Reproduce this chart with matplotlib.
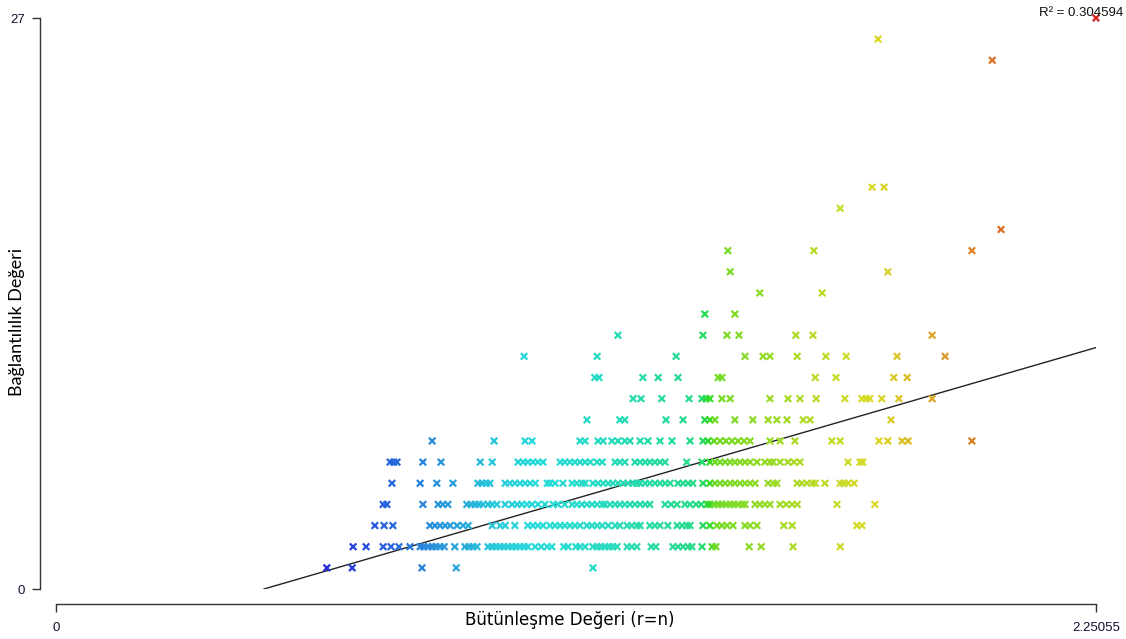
import numpy as np
import matplotlib
matplotlib.use("Agg")
import matplotlib.pyplot as plt
from matplotlib.colors import hsv_to_rgb

# Bütünleşme değeri (x) için her bağlantılılık seviyesindeki noktalar
x_y1 = [0.586, 0.641, 0.792, 0.866, 1.162]
x_y2 = [0.643, 0.671, 0.708, 0.725, 0.742, 0.766, 0.788, 0.796, 0.805, 0.814,
        0.822, 0.831, 0.840, 0.863, 0.885, 0.894, 0.902, 0.911, 0.935, 0.944,
        0.952, 0.961, 0.969, 0.978, 0.987, 0.995, 1.004, 1.013, 1.021, 1.037,
        1.050, 1.063, 1.073, 1.099, 1.108, 1.125, 1.134, 1.145, 1.162, 1.171,
        1.179, 1.188, 1.197, 1.205, 1.214, 1.236, 1.246, 1.257, 1.288, 1.298,
        1.335, 1.346, 1.357, 1.368, 1.376, 1.398, 1.420, 1.428, 1.500, 1.526,
        1.595, 1.697]
x_y3 = [0.690, 0.710, 0.729, 0.809, 0.820, 0.831, 0.842, 0.853, 0.868, 0.881,
        0.892, 0.944, 0.961, 0.972, 0.993, 1.021, 1.032, 1.043, 1.054, 1.069,
        1.080, 1.091, 1.101, 1.112, 1.123, 1.134, 1.149, 1.160, 1.171, 1.182,
        1.195, 1.210, 1.220, 1.236, 1.246, 1.257, 1.264, 1.285, 1.296, 1.307,
        1.324, 1.344, 1.355, 1.365, 1.372, 1.400, 1.415, 1.430, 1.441, 1.452,
        1.465, 1.491, 1.502, 1.517, 1.575, 1.593, 1.733, 1.744]
x_y4 = [0.708, 0.716, 0.794, 0.827, 0.837, 0.848, 0.889, 0.898, 0.907, 0.915,
        0.924, 0.935, 0.944, 0.954, 0.972, 0.987, 0.998, 1.008, 1.019, 1.030,
        1.043, 1.058, 1.076, 1.086, 1.101, 1.117, 1.127, 1.138, 1.149, 1.160,
        1.171, 1.182, 1.188, 1.199, 1.210, 1.220, 1.231, 1.242, 1.253, 1.264,
        1.275, 1.285, 1.318, 1.331, 1.344, 1.361, 1.372, 1.385, 1.396, 1.409,
        1.415, 1.424, 1.433, 1.441, 1.450, 1.459, 1.467, 1.476, 1.485, 1.491,
        1.513, 1.523, 1.534, 1.545, 1.567, 1.580, 1.593, 1.604, 1.690, 1.772]
x_y5 = [0.727, 0.788, 0.824, 0.859, 0.913, 0.922, 0.931, 0.939, 0.972, 0.982,
        0.993, 1.004, 1.015, 1.026, 1.037, 1.063, 1.069, 1.080, 1.097, 1.117,
        1.127, 1.138, 1.145, 1.162, 1.173, 1.184, 1.195, 1.205, 1.216, 1.227,
        1.238, 1.249, 1.257, 1.264, 1.275, 1.285, 1.296, 1.307, 1.318, 1.329,
        1.346, 1.357, 1.368, 1.378, 1.400, 1.415, 1.426, 1.437, 1.448, 1.459,
        1.469, 1.480, 1.491, 1.502, 1.513, 1.541, 1.552, 1.560, 1.604, 1.614,
        1.625, 1.636, 1.643, 1.664, 1.697, 1.705, 1.714, 1.727]
x_y6 = [0.723, 0.731, 0.738, 0.794, 0.833, 0.918, 0.944, 1.000, 1.011, 1.021,
        1.032, 1.043, 1.054, 1.091, 1.101, 1.112, 1.123, 1.134, 1.145, 1.156,
        1.171, 1.182, 1.210, 1.220, 1.231, 1.253, 1.264, 1.275, 1.285, 1.296,
        1.307, 1.318, 1.365, 1.398, 1.415, 1.426, 1.437, 1.448, 1.459, 1.469,
        1.480, 1.491, 1.502, 1.517, 1.534, 1.545, 1.552, 1.567, 1.584, 1.597,
        1.610, 1.714, 1.740, 1.746]
x_y7 = [0.814, 0.948, 1.015, 1.030, 1.134, 1.145, 1.173, 1.184, 1.203, 1.216,
        1.231, 1.242, 1.264, 1.281, 1.307, 1.333, 1.372, 1.400, 1.411, 1.424,
        1.437, 1.450, 1.463, 1.476, 1.489, 1.502, 1.545, 1.567, 1.599, 1.679,
        1.697, 1.781, 1.800, 1.831, 1.844, 1.982]
x_y8 = [1.149, 1.220, 1.231, 1.320, 1.357, 1.404, 1.415, 1.426, 1.469, 1.508,
        1.541, 1.560, 1.582, 1.617, 1.632, 1.807]
x_y9 = [1.249, 1.266, 1.311, 1.370, 1.398, 1.407, 1.415, 1.441, 1.459, 1.545,
        1.584, 1.610, 1.645, 1.707, 1.744, 1.753, 1.761, 1.787, 1.824, 1.896]
x_y10 = [1.166, 1.175, 1.270, 1.303, 1.346, 1.433, 1.441, 1.643, 1.688, 1.813, 1.842]
x_y11 = [1.013, 1.171, 1.342, 1.491, 1.530, 1.545, 1.604, 1.666, 1.710, 1.820, 1.924]
x_y12 = [1.216, 1.400, 1.452, 1.478, 1.601, 1.638, 1.896]
x_y13 = [1.404, 1.469]
x_y14 = [1.523, 1.658]
x_y15 = [1.459, 1.800]
x_y16 = [1.454, 1.640, 1.982]
x_y17 = [2.045]
x_y18 = [1.697]
x_y19 = [1.766, 1.792]
x_y25 = [2.026]
x_y26 = [1.779]
x_y27 = [2.25055]

levels = [1, 2, 3, 4, 5, 6, 7, 8, 9, 10, 11, 12, 13, 14, 15, 16, 17, 18, 19, 25, 26, 27]
rows = [x_y1, x_y2, x_y3, x_y4, x_y5, x_y6, x_y7, x_y8, x_y9, x_y10, x_y11,
        x_y12, x_y13, x_y14, x_y15, x_y16, x_y17, x_y18, x_y19, x_y25, x_y26, x_y27]

# regresyon doğrusu ve eksen sınırları
intercept = -2.853
slope = 6.34
r_squared = 0.304594
x_max = 2.25055
y_max = 27

xs = np.concatenate([np.array(r, dtype=float) for r in rows])
ys = np.concatenate([np.full(len(r), lv, dtype=float) for r, lv in zip(rows, levels)])

# renk: x değerine göre maviden kırmızıya (ton geçişi referanstan okundu)
t = (xs - xs.min()) / (xs.max() - xs.min())
t_anchor = [0.0, 0.12, 0.225, 0.355, 0.485, 0.505, 0.615, 0.72, 0.84, 1.0]
h_anchor = [240, 210, 185, 172, 152, 95, 75, 58, 30, 0]
hue = np.interp(t, t_anchor, h_anchor) / 360.0
hsv = np.column_stack([hue, np.full_like(t, 0.82), np.full_like(t, 0.86)])
colors = hsv_to_rgb(hsv)

fig = plt.figure(figsize=(11.26, 6.39), dpi=100)
ax = fig.add_axes([56 / 1126, 50 / 639, 1040 / 1126, 571 / 639])

ax.scatter(xs, ys, marker='x', s=22, c=colors, linewidths=1.6, clip_on=False, zorder=3)

x_line = np.array([-intercept / slope, x_max])
ax.plot(x_line, intercept + slope * x_line, color='#222222', lw=1.0, zorder=2)

ax.set_xlim(0, x_max)
ax.set_ylim(0, y_max)

# eksenler R tarzı: dışarı kaydırılmış ve sınırlı
for s in ['top', 'right']:
    ax.spines[s].set_visible(False)
ax.spines['left'].set_position(('outward', 11.5))
ax.spines['bottom'].set_position(('outward', 10.8))
ax.spines['left'].set_bounds(0, y_max)
ax.spines['bottom'].set_bounds(0, x_max)
for s in ['left', 'bottom']:
    ax.spines[s].set_color('#333333')
    ax.spines[s].set_linewidth(1.0)

ax.set_xticks([0, x_max])
ax.set_xticklabels(['0', '2.25055'])
ax.set_yticks([0, y_max])
ax.set_yticklabels(['0', '27'])
ax.tick_params(length=5.8, width=1.0, color='#333333', labelsize=9.5,
               labelcolor='#111133')
ax.tick_params(axis='y', pad=5)
ax.tick_params(axis='x', pad=7)
for lab in ax.get_xticklabels() + ax.get_yticklabels():
    lab.set_family('Liberation Sans')

fig.text(570 / 1126, 1 - 620 / 639, 'Bütünleşme Değeri (r=n)', fontsize=12,
         family='DejaVu Sans', ha='center', va='center')
fig.text(17 / 1126, 1 - 322 / 639, 'Bağlantılılık Değeri', fontsize=13,
         family='Lato', rotation=90, ha='center', va='center')

fig.text(0.9975, 0.979, 'R² = ' + str(r_squared), ha='right', va='center',
         fontsize=9.5, family='Liberation Sans', color='#111111')

fig.savefig('out.png', dpi=100)
plt.close(fig)
